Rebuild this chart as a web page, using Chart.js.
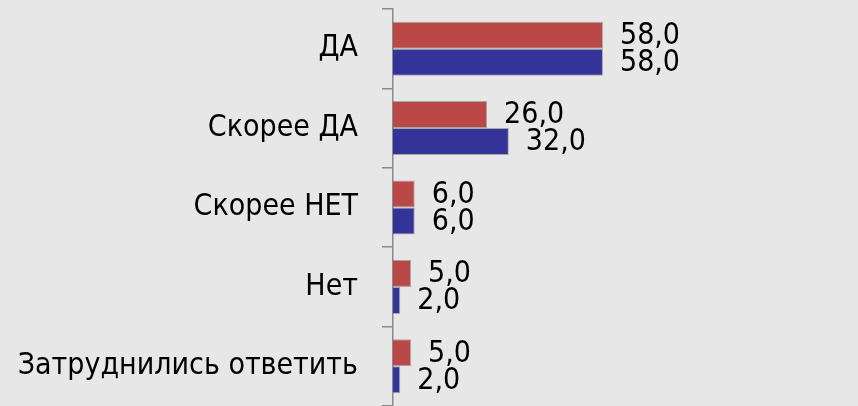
<!DOCTYPE html>
<html>
<head>
<meta charset="utf-8">
<script src="https://cdn.jsdelivr.net/npm/chart.js@4/dist/chart.umd.min.js"></script>
<style>
  html, body { margin: 0; padding: 0; background: #e7e7e7; }
  #wrap { width: 858px; height: 406px; position: relative; }
</style>
</head>
<body>
<div id="wrap"><canvas id="c" width="858" height="406"></canvas></div>
<script>
const categories = ["ДА", "Скорее ДА", "Скорее НЕТ", "Нет", "Затруднились ответить"];
const seriesRed = [58, 26, 6, 5, 5];
const seriesBlue = [58, 32, 6, 2, 2];

const FONT = '"DejaVu Sans Condensed", "DejaVu Sans", sans-serif';

const valueLabels = {
  id: 'valueLabels',
  afterDatasetsDraw(chart) {
    const ctx = chart.ctx;
    ctx.save();
    ctx.font = '30px ' + FONT;
    ctx.fillStyle = '#000';
    ctx.textAlign = 'left';
    ctx.textBaseline = 'middle';
    chart.data.datasets.forEach((ds, i) => {
      const meta = chart.getDatasetMeta(i);
      meta.data.forEach((bar, j) => {
        const txt = ds.data[j].toFixed(1).replace('.', ',');
        ctx.fillText(txt, bar.x + 17, bar.y + 1);
      });
    });
    ctx.restore();
  }
};

new Chart(document.getElementById('c'), {
  type: 'bar',
  data: {
    labels: categories,
    datasets: [
      { data: seriesRed, backgroundColor: 'rgb(185,72,70)', borderColor: 'rgba(125,125,125,0.6)', borderWidth: 1,
        categoryPercentage: 0.68, barPercentage: 1 },
      { data: seriesBlue, backgroundColor: 'rgb(51,51,153)', borderColor: 'rgba(125,125,125,0.6)', borderWidth: 1,
        categoryPercentage: 0.68, barPercentage: 1 }
    ]
  },
  options: {
    indexAxis: 'y',
    responsive: false,
    animation: false,
    devicePixelRatio: 1,
    layout: { padding: { top: 9, right: 103, bottom: 0, left: 0 } },
    plugins: { legend: { display: false }, tooltip: { enabled: false } },
    scales: {
      x: { display: false, min: 0, max: 100 },
      y: {
        afterFit(scale) { scale.width = 393; scale.paddingTop = 0; scale.paddingBottom = 0; },
        grid: { display: true, drawOnChartArea: false, drawTicks: true, tickLength: 11, color: '#8a8a8a', lineWidth: 1.5, offset: true },
        border: { display: true, color: '#8a8a8a', width: 1.5 },
        ticks: { color: '#000', padding: 24, autoSkip: false, font: { family: FONT, size: 30 } }
      }
    }
  },
  plugins: [valueLabels]
});
</script>
</body>
</html>
